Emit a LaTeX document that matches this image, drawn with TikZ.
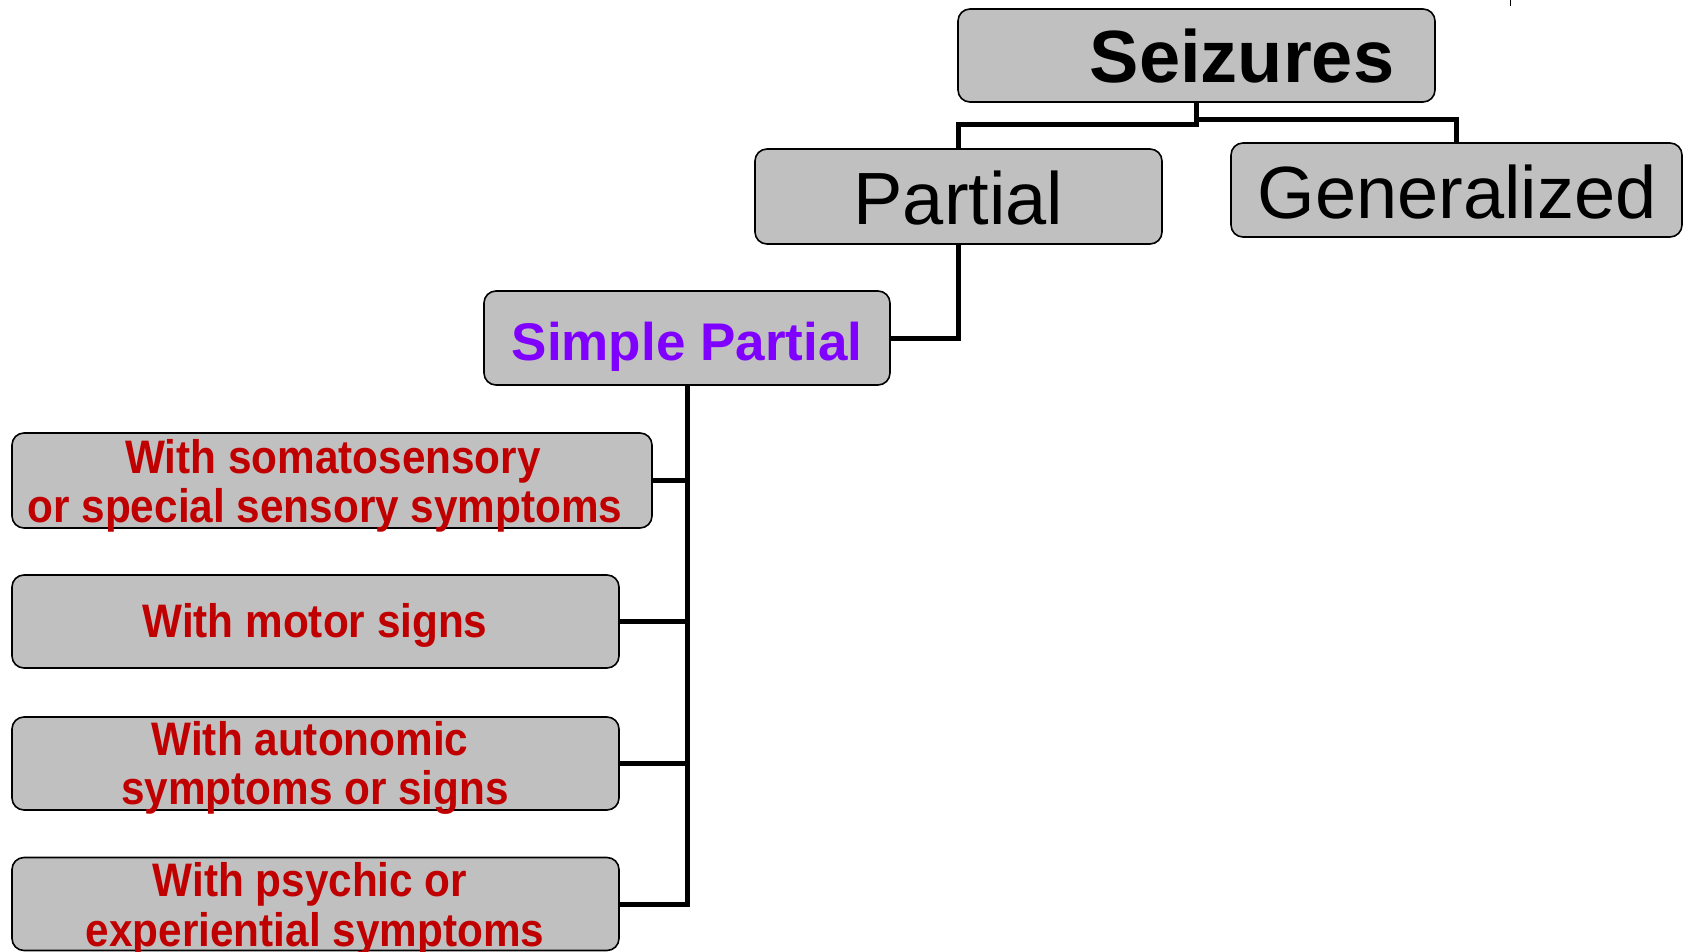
\documentclass[tikz,border=0pt]{standalone}
\usepackage{fontspec}
\setmainfont{Liberation Sans}
\newfontfamily\redfont[FakeStretch=0.9]{Liberation Sans}
\definecolor{boxgray}{RGB}{192,192,192}
\definecolor{redtxt}{RGB}{192,0,0}
\definecolor{purptxt}{RGB}{128,0,255}
\tikzset{
  box/.style={draw=black, line width=1.6pt, fill=boxgray, rounded corners=12pt, inner sep=0pt},
  conn/.style={draw=black, line width=5pt},
  txt/.style={inner sep=0pt, anchor=base},
  redlbl/.style={txt, text=redtxt, font=\redfont\bfseries\fontsize{47}{50}\selectfont},
}
\begin{document}
\begin{tikzpicture}[x=1pt,y=-1pt]
\useasboundingbox (0,0) rectangle (1685,952);
% boxes
\node[box, minimum width=477pt, minimum height=93pt] (seiz) at (1196.5,55.5) {};
\node[box, minimum width=407pt, minimum height=95pt] (part) at (958.5,196.5) {};
\node[box, minimum width=451pt, minimum height=94pt] (gen) at (1456.5,190) {};
\node[box, minimum width=406pt, minimum height=94pt] (sp) at (687,338) {};
\node[box, minimum width=640pt, minimum height=95pt] (b1) at (332,480.5) {};
\node[box, minimum width=607pt, minimum height=93pt] (b2) at (315.5,621.5) {};
\node[box, minimum width=607pt, minimum height=93pt] (b3) at (315.5,763.5) {};
\node[box, minimum width=607pt, minimum height=93pt] (b4) at (315.5,904) {};
% connectors
\draw[conn] (seiz.south) -- ++(0,22) -| (part.north);
\draw[conn] (seiz.south) -- ++(0,17) -| (gen.north);
\draw[conn] (part.south) |- (sp.east);
\draw[conn] (sp.south) |- (b4.east);
\draw[conn] (b1.east) -- (b1.east -| sp.south);
\draw[conn] (b2.east) -- (b2.east -| sp.south);
\draw[conn] (b3.east) -- (b3.east -| sp.south);
% tick at top
\coordinate (tk1) at (1510,0);
\coordinate (tk2) at (1510,6);
\draw[line width=1pt] (tk1) -- (tk2);
% labels
\node[txt, font=\bfseries\fontsize{74}{80}\selectfont] (seizT) at (1242,83) {Seizures};
\node[txt, font=\fontsize{74}{80}\selectfont] (partT) at (958.5,224) {Partial};
\node[txt, font=\fontsize{74}{80}\selectfont] (genT) at (1457,218) {Generalized};
\node[txt, text=purptxt, font=\bfseries\fontsize{53}{58}\selectfont] (spT) at (687,360) {Simple Partial};
\node[redlbl] (b1a) at (333,473) {With somatosensory};
\node[redlbl] (b1b) at (325,522) {or special sensory symptoms};
\node[redlbl] (b2a) at (315,637) {With motor signs};
\node[redlbl] (b3a) at (310,755) {With autonomic};
\node[redlbl] (b3b) at (315,804) {symptoms or signs};
\node[redlbl] (b4a) at (310,896) {With psychic or};
\node[redlbl] (b4b) at (315,946) {experiential symptoms};
\end{tikzpicture}
\end{document}
